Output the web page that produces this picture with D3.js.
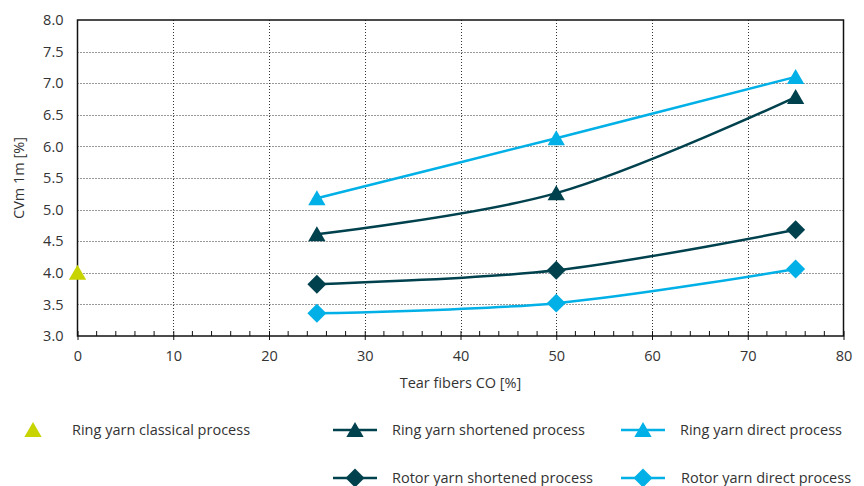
<!DOCTYPE html>
<html>
<head>
<meta charset="utf-8">
<script src="https://cdn.jsdelivr.net/npm/d3@7"></script>
<style>
  body { margin: 0; background: #fff; }
  svg text { font-family: "Open Sans", "Noto Sans", sans-serif; fill: #333; }
</style>
</head>
<body>
<svg id="chart" width="864" height="486"></svg>
<script>
// Tear fiber share (x) vs. CVm 1m (y)
const xTicks = [0, 10, 20, 30, 40, 50, 60, 70, 80];
const yTicks = [3.0, 3.5, 4.0, 4.5, 5.0, 5.5, 6.0, 6.5, 7.0, 7.5, 8.0];
const tearShare = [25, 50, 75];

const ringClassical = [{ x: 0, y: 4.0 }];
const ringShortened = [4.61, 5.26, 6.78];
const ringDirect = [5.18, 6.13, 7.10];
const rotorShortened = [3.82, 4.04, 4.68];
const rotorDirect = [3.36, 3.52, 4.06];

const xTitle = "Tear fibers CO [%]";
const yTitle = "CVm 1m [%]";

const colors = { lime: "#c8d400", dark: "#00414e", cyan: "#00b0e6" };

const seriesList = [
  { name: "Ring yarn shortened process", values: ringShortened, color: colors.dark, symbol: d3.symbolTriangle },
  { name: "Ring yarn direct process", values: ringDirect, color: colors.cyan, symbol: d3.symbolTriangle },
  { name: "Rotor yarn shortened process", values: rotorShortened, color: colors.dark, symbol: "diamond" },
  { name: "Rotor yarn direct process", values: rotorDirect, color: colors.cyan, symbol: "diamond" }
];

const svg = d3.select("#chart");
const m = { left: 77.5, right: 843.5, top: 20, bottom: 336 };

const x = d3.scaleLinear().domain([0, 80]).range([m.left, m.right]);
const y = d3.scaleLinear().domain([3, 8]).range([m.bottom, m.top]);

// grid
const grid = svg.append("g");
grid.selectAll("line.h").data(yTicks.filter(v => v > 3 && v < 8)).join("line")
  .attr("x1", m.left).attr("x2", m.right)
  .attr("y1", d => Math.round(y(d)) + 0.5).attr("y2", d => Math.round(y(d)) + 0.5)
  .attr("stroke", "#333").attr("stroke-width", 1).attr("stroke-dasharray", "1,2");
grid.selectAll("line.v").data(xTicks.filter(v => v > 0 && v < 80)).join("line")
  .attr("y1", m.top).attr("y2", m.bottom)
  .attr("x1", d => Math.round(x(d)) + 0.5).attr("x2", d => Math.round(x(d)) + 0.5)
  .attr("stroke", "#333").attr("stroke-width", 1).attr("stroke-dasharray", "1,2");

// frame
svg.append("rect")
  .attr("x", m.left).attr("y", m.top)
  .attr("width", m.right - m.left).attr("height", m.bottom - m.top)
  .attr("fill", "none").attr("stroke", "#111").attr("stroke-width", 1.5);

// x axis with minor ticks pointing up
const xAxis = d3.axisBottom(x).tickValues(xTicks).tickSize(5).tickFormat(d3.format("d"));
const gx = svg.append("g").attr("transform", `translate(0,${m.bottom})`).call(xAxis);
gx.select(".domain").remove();
gx.selectAll(".tick line").attr("stroke", "#111").attr("y1", -5).attr("y2", 4);
gx.selectAll(".tick text").attr("font-size", 14.5).attr("dy", "1.2em").attr("fill", "#333");
const minor = d3.range(2, 80, 2).filter(v => v % 10 !== 0);
gx.selectAll("line.minor").data(minor).join("line")
  .attr("x1", d => x(d)).attr("x2", d => x(d))
  .attr("y1", -5).attr("y2", 0).attr("stroke", "#111");

// y axis
const yAxis = d3.axisLeft(y).tickValues(yTicks).tickSize(0).tickPadding(14).tickFormat(d3.format(".1f"));
const gy = svg.append("g").attr("transform", `translate(${m.left},0)`).call(yAxis);
gy.select(".domain").remove();
gy.selectAll(".tick text").attr("font-size", 14.5).attr("fill", "#333");

// axis titles
svg.append("text").attr("x", x(40)).attr("y", 388).attr("text-anchor", "middle")
  .attr("font-size", 14.5).text(xTitle);
svg.append("text").attr("transform", `translate(24,${y(5.5)}) rotate(-90)`)
  .attr("text-anchor", "middle").attr("font-size", 14.5).text(yTitle);

function symbolPath(sym, size) {
  if (sym === "diamond") {
    const h = Math.sqrt(size) * 0.75;
    return `M0,${-h}L${h},0L0,${h}L${-h},0Z`;
  }
  return d3.symbol().type(sym).size(size)();
}
const triSize = 130, diaSize = 160;

// series lines
const line = d3.line().x(d => x(d.x)).y(d => y(d.y)).curve(d3.curveCatmullRom.alpha(0.5));
seriesList.forEach(s => {
  const pts = s.values.map((v, i) => ({ x: tearShare[i], y: v }));
  svg.append("path").datum(pts).attr("d", line)
    .attr("fill", "none").attr("stroke", s.color).attr("stroke-width", 2.5);
  svg.append("g").selectAll("path").data(pts).join("path")
    .attr("transform", d => `translate(${x(d.x)},${y(d.y) + (s.symbol === "diamond" ? 0 : 2)})`)
    .attr("d", symbolPath(s.symbol, s.symbol === "diamond" ? diaSize : triSize))
    .attr("fill", s.color);
});

// single classical point
svg.append("g").selectAll("path").data(ringClassical).join("path")
  .attr("transform", d => `translate(${x(d.x)},${y(d.y) + 2})`)
  .attr("d", symbolPath(d3.symbolTriangle, triSize))
  .attr("fill", colors.lime);

// legend
const legendItems = [
  { name: "Ring yarn classical process", color: colors.lime, symbol: d3.symbolTriangle, line: false, lx: 33, tx: 72, ly: 430 },
  { name: seriesList[0].name, color: colors.dark, symbol: d3.symbolTriangle, line: true, lx: 355, tx: 392, ly: 430 },
  { name: seriesList[1].name, color: colors.cyan, symbol: d3.symbolTriangle, line: true, lx: 643, tx: 680, ly: 430 },
  { name: seriesList[2].name, color: colors.dark, symbol: "diamond", line: true, lx: 355, tx: 392, ly: 478 },
  { name: seriesList[3].name, color: colors.cyan, symbol: "diamond", line: true, lx: 643, tx: 681, ly: 478 }
];
const lg = svg.append("g").selectAll("g").data(legendItems).join("g");
lg.filter(d => d.line).append("line")
  .attr("x1", d => d.lx - 22).attr("x2", d => d.lx + 22)
  .attr("y1", d => d.ly).attr("y2", d => d.ly)
  .attr("stroke", d => d.color).attr("stroke-width", 2.5);
lg.append("path")
  .attr("transform", d => `translate(${d.lx},${d.ly + (d.symbol === "diamond" ? 0 : 2)})`)
  .attr("d", d => symbolPath(d.symbol, d.symbol === "diamond" ? diaSize : triSize))
  .attr("fill", d => d.color);
lg.append("text").attr("x", d => d.tx).attr("y", d => d.ly).attr("dy", "0.35em")
  .attr("font-size", 14.5).text(d => d.name);
</script>
</body>
</html>
